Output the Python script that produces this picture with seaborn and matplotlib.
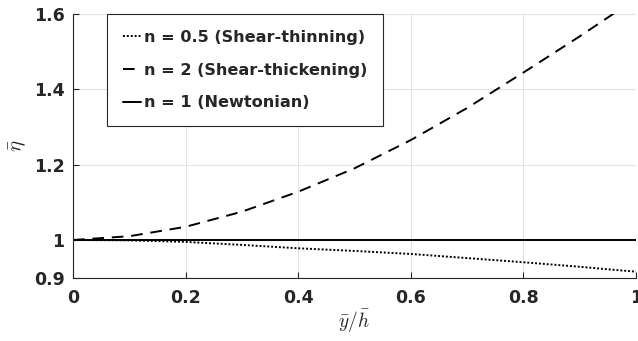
import matplotlib
matplotlib.use("Agg")
import matplotlib.pyplot as plt
import seaborn as sns
import pandas as pd

# Data
x_vals = [0.0, 0.1, 0.2, 0.3, 0.4, 0.5, 0.6, 0.7, 0.8, 0.9, 0.96, 1.0]
eta_thinning = [1.0, 0.999, 0.995, 0.987, 0.978, 0.971, 0.963, 0.952, 0.941, 0.929, 0.921, 0.916]
eta_thickening = [1.0, 1.01, 1.035, 1.075, 1.128, 1.19, 1.265, 1.35, 1.444, 1.54, 1.6, 1.645]
eta_newtonian = [1.0] * len(x_vals)
labels = ["n = 0.5 (Shear-thinning)", "n = 2 (Shear-thickening)", "n = 1 (Newtonian)"]
x_ticks = [0, 0.2, 0.4, 0.6, 0.8, 1]
x_ticklabels = ["0", "0.2", "0.4", "0.6", "0.8", "1"]
y_ticks = [0.9, 1.0, 1.2, 1.4, 1.6]
y_ticklabels = ["0.9", "1", "1.2", "1.4", "1.6"]

sns.set_style("ticks")
plt.rcParams["font.family"] = ["DejaVu Sans"]
plt.rcParams["mathtext.fontset"] = "cm"

df = pd.concat([
    pd.DataFrame({"x": x_vals, "eta": eta_thinning, "case": labels[0]}),
    pd.DataFrame({"x": x_vals, "eta": eta_thickening, "case": labels[1]}),
    pd.DataFrame({"x": x_vals, "eta": eta_newtonian, "case": labels[2]}),
])

fig = plt.figure(figsize=(6.38, 3.41), dpi=100)
ax = fig.add_axes([0.1144, 0.1856, 0.8825, 0.7742])

sns.lineplot(data=df, x="x", y="eta", hue="case", style="case",
             palette=["black", "black", "black"],
             dashes=[(1, 1), (6, 4), ""], linewidth=1.4, ax=ax, legend=True)

ax.set_xlim(0, 1)
ax.set_ylim(0.9, 1.6)
ax.set_xticks(x_ticks)
ax.set_xticklabels(x_ticklabels)
ax.set_yticks(y_ticks)
ax.set_yticklabels(y_ticklabels)
ax.grid(True, color="#e3e3e3", linewidth=0.8)
ax.set_axisbelow(True)

for s in ["top", "right"]:
    ax.spines[s].set_visible(False)
for s in ["left", "bottom"]:
    ax.spines[s].set_color("#262626")
    ax.spines[s].set_linewidth(0.8)

ax.tick_params(axis="both", direction="in", length=4, width=0.8, color="#262626",
               labelcolor="#262626", labelsize=12.5)
ax.tick_params(axis="x", pad=8)
ax.tick_params(axis="y", pad=6)
for lab in ax.get_xticklabels() + ax.get_yticklabels():
    lab.set_fontweight("bold")

ax.set_xlabel(r"$\bar{y}/\bar{h}$", fontsize=14, color="#262626", labelpad=1)
ax.set_ylabel(r"$\bar{\eta}$", fontsize=15, color="#262626", labelpad=4)

handles, lbls = ax.get_legend_handles_labels()
leg = ax.legend(handles, lbls, loc="upper left", bbox_to_anchor=(0.06, 1.0),
                prop={"weight": "bold", "size": 11.6}, frameon=True, fancybox=False,
                edgecolor="#262626", framealpha=1, handlelength=1.15,
                handletextpad=0.15, labelspacing=1.1, borderpad=1.0, borderaxespad=0)
leg.get_frame().set_linewidth(0.8)

fig.savefig("out.png", dpi=100)
